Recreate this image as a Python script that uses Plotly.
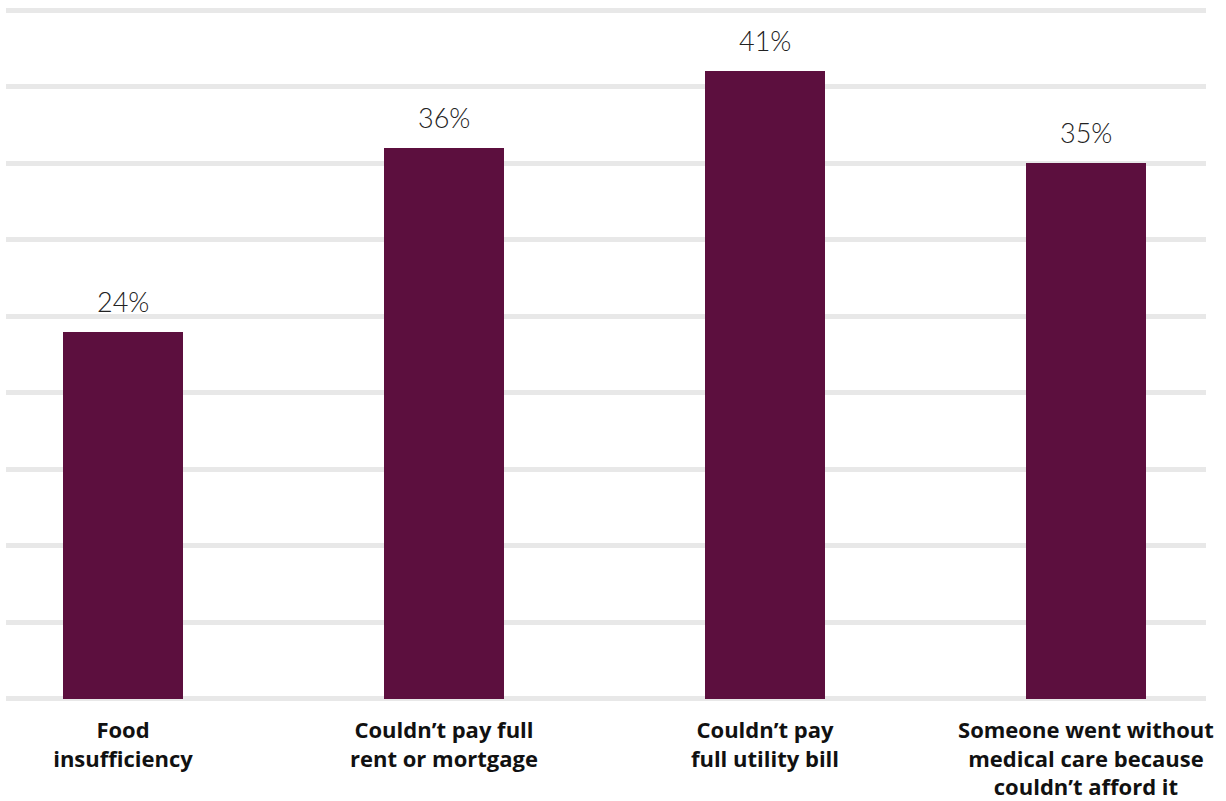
import plotly.graph_objects as go

# Share of households reporting each hardship
categories = [
    "Food<br>insufficiency",
    "Couldn\u2019t pay full<br>rent or mortgage",
    "Couldn\u2019t pay<br>full utility bill",
    "Someone went without<br>medical care because<br>couldn\u2019t afford it",
]
values = [24, 36, 41, 35]
labels = ["24%", "36%", "41%", "35%"]

BAR = "#5c0f3e"
GRID = "#e8e8e8"

positions = list(range(len(categories)))

fig = go.Figure(
    go.Bar(
        x=positions,
        y=values,
        marker=dict(color=BAR, line=dict(width=0)),
        width=0.374,
        hoverinfo="skip",
    )
)

# Value labels above each bar
for xi, v, lab in zip(positions, values, labels):
    fig.add_annotation(
        x=xi, y=v, text=lab, showarrow=False,
        yanchor="bottom", yshift=12,
        font=dict(family="Lato", size=27, color="#222222", weight=300),
    )

fig.update_layout(
    width=1226, height=801,
    margin=dict(l=6, r=20, t=7, b=99),
    paper_bgcolor="white", plot_bgcolor="white",
    showlegend=False,
    bargap=0,
)
fig.update_xaxes(
    range=[-0.3645, 3.374],
    tickmode="array", tickvals=positions, ticktext=categories,
    tickfont=dict(family="Open Sans", size=22, color="#111111", weight="bold"),
    showgrid=False, zeroline=False, showline=False,
    ticks="", ticklabelstandoff=13, automargin=False,
)
fig.update_yaxes(
    range=[-0.2, 45.2], dtick=5, tick0=0,
    showgrid=True, gridcolor=GRID, gridwidth=5,
    zeroline=True, zerolinecolor=GRID, zerolinewidth=5,
    showticklabels=False, ticks="", showline=False, automargin=False,
)

fig.write_html("out.html")
